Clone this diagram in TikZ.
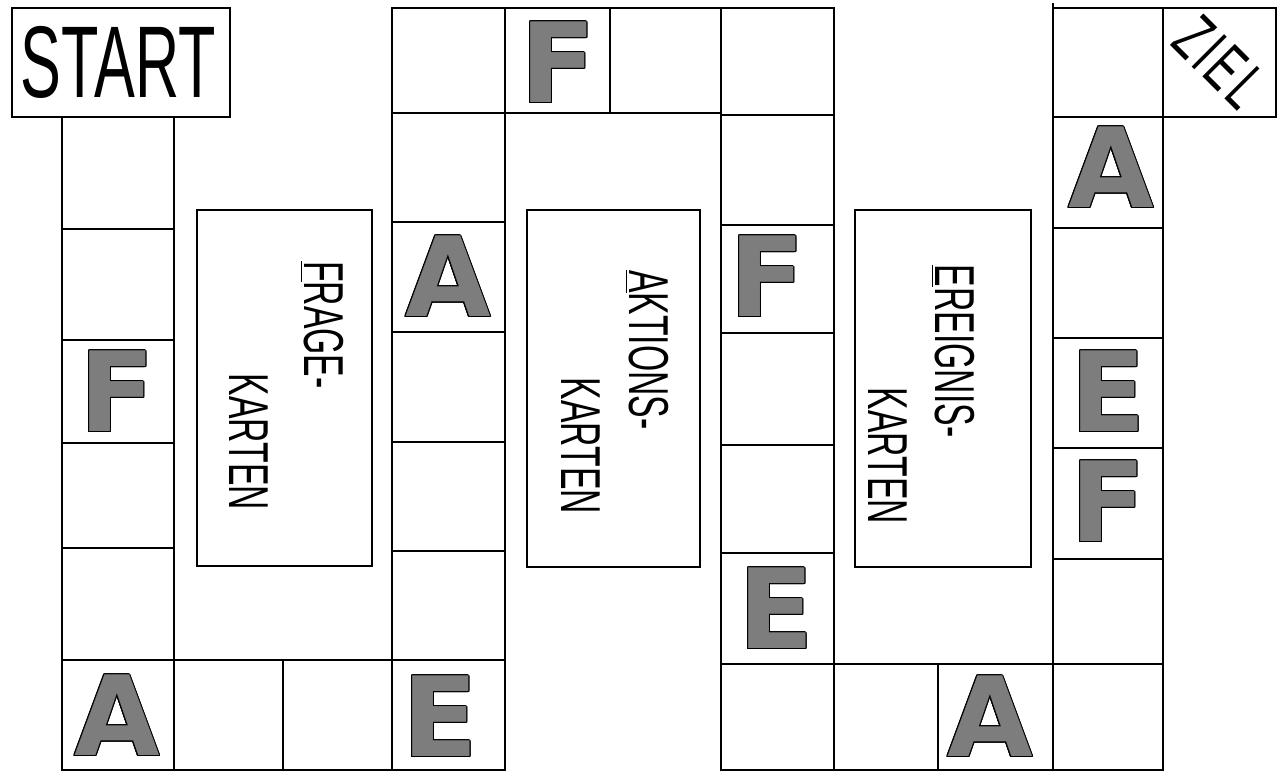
\documentclass[tikz,border=0pt]{standalone}
\usepackage{fontspec}
\usepackage{contour}
\newfontfamily\handfont[FakeStretch=0.6]{Liberation Sans}
\newfontfamily\zielfont[FakeStretch=0.6,LetterSpace=6]{Liberation Sans}
\newfontfamily\blockfont{DejaVu Sans}
\definecolor{boardGray}{RGB}{125,125,125}
\contourlength{0.6pt}
\usetikzlibrary{positioning}

\begin{document}
\begin{tikzpicture}[x=0.02cm, y=-0.02cm,
  cell/.style={draw, line width=0.9pt},
  card/.style={draw, line width=0.9pt, inner sep=0pt},
  hand/.style={font=\handfont\fontsize{32}{34}\selectfont, inner sep=0pt, rotate=-90},
  bigletter/.style={font=\blockfont\bfseries\fontsize{63}{63}\selectfont, inner sep=0pt, text=boardGray}
]
  \useasboundingbox (0,0) rectangle (1284,775);

  % start and goal
  \draw[cell] (12,8) rectangle (230,117);
  \node[font=\handfont\fontsize{58}{60}\selectfont, inner sep=0pt] (start) at (118,62) {START};
  \draw[cell] (1163,8) rectangle (1276,117);
  \node[font=\zielfont\fontsize{38}{40}\selectfont, inner sep=0pt, rotate=-45] (ziel) at (1220,62) {ZIEL};

  % first column down
  \foreach \ya/\yb in {117/229,229/340,340/443,443/548,548/660}
    \draw[cell] (62,\ya) rectangle (174,\yb);
  \foreach \xa/\xb in {62/174,174/283,283/392,392/505}
    \draw[cell] (\xa,660) rectangle (\xb,770);

  % second column up
  \foreach \ya/\yb in {8/113,113/222,222/332,332/442,442/551,551/660}
    \draw[cell] (392,\ya) rectangle (505,\yb);
  \foreach \xa/\xb in {505/610,610/721}
    \draw[cell] (\xa,8) rectangle (\xb,113);

  % third column down
  \foreach \ya/\yb in {8/115,115/225,225/333,333/445,445/553,553/664}
    \draw[cell] (721,\ya) rectangle (834,\yb);
  \foreach \xa/\xb in {721/834,834/938,938/1053,1053/1163}
    \draw[cell] (\xa,664) rectangle (\xb,770);

  % fourth column up
  \foreach \ya/\yb in {8/117,117/228,228/338,338/448,448/559,559/664}
    \draw[cell] (1053,\ya) rectangle (1163,\yb);
  \draw[cell] (1053,8) -- (1053,3);

  % card piles
  \node[card, minimum width=3.5cm, minimum height=7.12cm] (frage) at (284.5,388) {};
  \node[card, minimum width=3.46cm, minimum height=7.14cm] (aktion) at (613.5,388.5) {};
  \node[card, minimum width=3.52cm, minimum height=7.14cm] (ereignis) at (943,388.5) {};

  \node[hand] (frage1) at (322,325) {\underline{F}RAGE-};
  \node[hand] (frage2) at (249,442) {KARTEN};
  \node[hand] (aktion1) at (647,350) {\underline{A}KTIONS-};
  \node[hand] (aktion2) at (581,446) {KARTEN};
  \node[hand] (ereignis1) at (953,351) {\underline{E}REIGNIS-};
  \node[hand] (ereignis2) at (888,456) {KARTEN};

  % field letters
  \node[bigletter] (f1) at (117,392) {\contour{black}{F}};
  \node[bigletter] (a1) at (117,716) {\contour{black}{A}};
  \node[bigletter] (e1) at (440,717) {\contour{black}{E}};
  \node[bigletter] (a2) at (448,277) {\contour{black}{A}};
  \node[bigletter] (f2) at (558,63) {\contour{black}{F}};
  \node[bigletter] (f3) at (767,277) {\contour{black}{F}};
  \node[bigletter] (e2) at (776,609) {\contour{black}{E}};
  \node[bigletter] (a3) at (990,717) {\contour{black}{A}};
  \node[bigletter] (a4) at (1111,168) {\contour{black}{A}};
  \node[bigletter] (e3) at (1108,392) {\contour{black}{E}};
  \node[bigletter] (f4) at (1108,502) {\contour{black}{F}};
\end{tikzpicture}
\end{document}
